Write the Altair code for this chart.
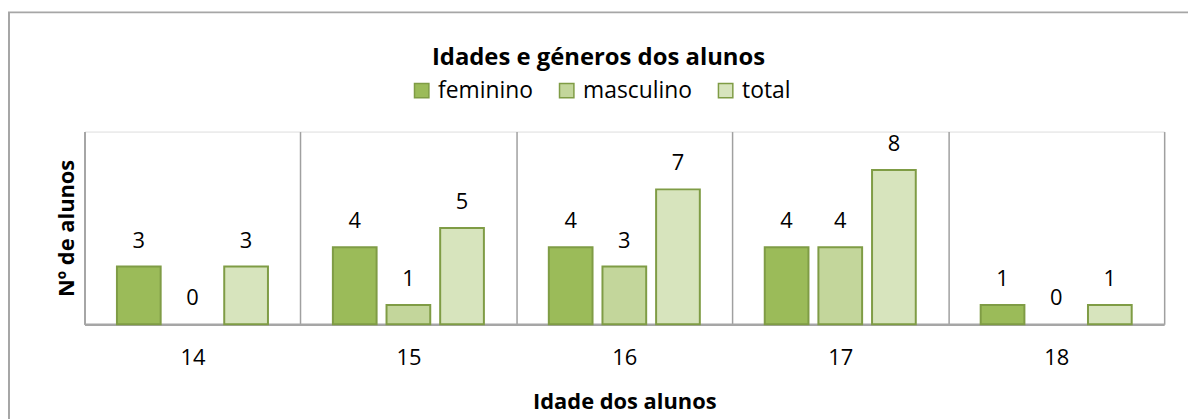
import altair as alt
import pandas as pd

ages = ["14", "15", "16", "17", "18"]
feminino = [3, 4, 4, 4, 1]
masculino = [0, 1, 3, 4, 0]
total = [3, 5, 7, 8, 1]
series = ["feminino", "masculino", "total"]
colors = ["#9BBB59", "#C3D69B", "#D7E4BD"]

rows = []
for i, a in enumerate(ages):
    for s, vals in zip(series, [feminino, masculino, total]):
        rows.append({"idade": a, "serie": s, "valor": vals[i]})
df = pd.DataFrame(rows)

FONT = "Open Sans"

x_enc = alt.X(
    "idade:N",
    sort=ages,
    scale=alt.Scale(domain=ages, paddingInner=0, paddingOuter=0),
    axis=alt.Axis(
        title="Idade dos alunos",
        grid=True,
        tickBand="extent",
        gridColor="#A0A0A0",
        gridWidth=1.5,
        ticks=False,
        domainColor="#A6A6A6",
        domainWidth=2.5,
        labelAngle=0,
        labelFont=FONT,
        labelFontSize=22,
        labelColor="#000000",
        labelPadding=24,
        titleFont=FONT,
        titleFontSize=22,
        titleFontWeight="bold",
        titleColor="#000000",
        titlePadding=23,
    ),
)
xoff_enc = alt.XOffset(
    "serie:N",
    sort=series,
    scale=alt.Scale(domain=series, paddingInner=0.185, paddingOuter=0.605),
)
y_enc = alt.Y(
    "valor:Q",
    scale=alt.Scale(domain=[0, 10], nice=False),
    axis=alt.Axis(
        title="Nº de alunos",
        labels=False,
        ticks=False,
        grid=False,
        domainColor="#A6A6A6",
        domainWidth=2,
        titleFont=FONT,
        titleFontSize=22,
        titleFontWeight="bold",
        titleColor="#000000",
        titlePadding=6,
    ),
)

frame = alt.Chart(alt.Data(values=[{"f": 1}])).mark_rect(
    fill="transparent", stroke="#A6A6A6", strokeWidth=2, clip=False
).encode(
    x=alt.value(-76), x2=alt.value(1200), y=alt.value(-120), y2=alt.value(400)
)

bars = alt.Chart(df).transform_filter(
    alt.datum.valor > 0
).mark_bar(stroke="#7F9C45", strokeWidth=2).encode(
    x=x_enc,
    xOffset=xoff_enc,
    y=y_enc,
    fill=alt.Fill(
        "serie:N",
        sort=series,
        scale=alt.Scale(domain=series, range=colors),
        legend=alt.Legend(
            title=None,
            orient="none",
            direction="horizontal",
            legendX=328,
            legendY=-53,
            symbolType="square",
            symbolSize=210,
            symbolStrokeColor="#7F9C45",
            symbolStrokeWidth=1.5,
            labelFont=FONT,
            labelFontSize=23,
            labelColor="#000000",
            columnPadding=22,
            labelOffset=5,
            padding=0,
        ),
    ),
)

labels = alt.Chart(df).mark_text(
    font=FONT, fontSize=22, color="#000000", baseline="alphabetic", dy=-19
).encode(
    x=alt.X("idade:N", sort=ages),
    xOffset=alt.XOffset("serie:N", sort=series),
    y="valor:Q",
    text="valor:Q",
)

chart = alt.layer(frame, bars, labels).properties(
    width=1087,
    height=194,
    autosize=alt.AutoSizeParams(type="none"),
    padding={"left": 77, "top": 123, "right": 24, "bottom": 96},
    title=alt.TitleParams(
        "Idades e géneros dos alunos",
        font=FONT,
        fontSize=24,
        fontWeight="bold",
        color="#000000",
        anchor="middle",
        dx=-26,
        dy=67,
        offset=8,
    ),
).configure_view(
    fill="#F2F4EE", stroke=None
).configure(background="#FFFFFF")

chart.save("out.html", embed_options={"renderer": "svg", "actions": False})
